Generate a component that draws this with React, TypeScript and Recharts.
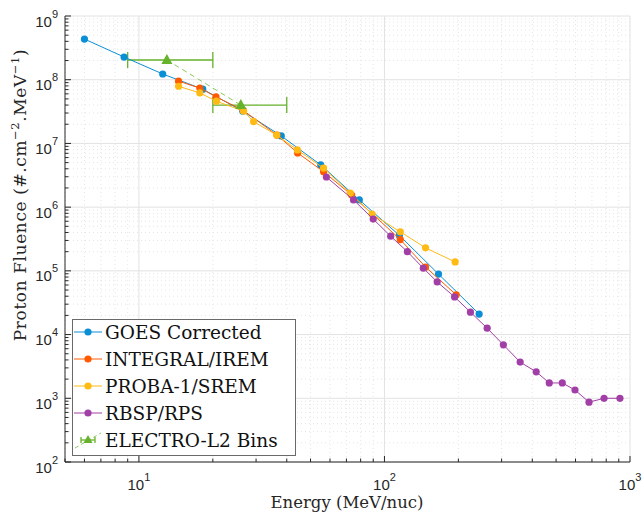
import { ScatterChart, Scatter, XAxis, YAxis, CartesianGrid, ErrorBar } from "recharts";

// GOES corrected
const goesEnergy = [6.0, 8.7, 12.5, 18.2, 26.5, 38, 55, 79, 115, 166, 243];
const goesFluence = [4.35e8, 2.27e8, 1.23e8, 7.1e7, 3.2e7, 1.31e7, 4.6e6, 1.3e6, 3.6e5, 8.9e4, 2.1e4];

// INTEGRAL/IREM
const iremEnergy = [14.5, 17.7, 20.6, 26.6, 36.5, 44.3, 56.5, 73.5, 116, 147, 196];
const iremFluence = [9.5e7, 7.4e7, 5.4e7, 3.3e7, 1.35e7, 7.1e6, 3.6e6, 1.55e6, 3.1e5, 1.15e5, 4.2e4];

// PROBA-1/SREM
const sremEnergy = [14.5, 17.7, 20.7, 26.7, 29.3, 36.4, 44.2, 56.5, 72.6, 89, 116, 147, 194];
const sremFluence = [7.9e7, 6.2e7, 4.6e7, 3.2e7, 2.2e7, 1.35e7, 7.9e6, 4.1e6, 1.66e6, 7.8e5, 4.1e5, 2.3e5, 1.38e5];

// RBSP/RPS
const rpsEnergy = [58, 74.8, 90, 106, 124, 144, 164, 193, 224, 262, 305, 357, 415, 469, 530, 597, 681, 784, 910];
const rpsFluence = [2.97e6, 1.3e6, 6.5e5, 3.5e5, 2.0e5, 1.1e5, 6.7e4, 3.9e4, 2.25e4, 1.26e4, 6.9e3, 3.7e3, 2.6e3, 1.74e3, 1.74e3, 1.35e3, 870, 1.0e3, 1.0e3];

// ELECTRO-L2 bins (centre, bin edges)
const electroEnergy = [13, 26];
const electroFluence = [2.04e8, 4.0e7];
const electroLow = [9, 20];
const electroHigh = [20, 40];

const xMajor = [10, 100, 1000];
const xTicks = [5, 6, 7, 8, 9, 10, 20, 30, 40, 50, 60, 70, 80, 90, 100, 200, 300, 400, 500, 600, 700, 800, 900, 1000];
const yMajor = [1e2, 1e3, 1e4, 1e5, 1e6, 1e7, 1e8, 1e9];
const yTicks = yMajor.flatMap((d) => (d < 1e9 ? [1, 2, 3, 4, 5, 6, 7, 8, 9].map((m) => m * d) : [d]));
const xMinor = xTicks.filter((v) => !xMajor.includes(v));
const yMinor = yTicks.filter((v) => !yMajor.includes(v));

const toPts = (e: number[], f: number[]) => e.map((x, i) => ({ x, y: f[i] }));

const series = [
  { name: "GOES Corrected", color: "#0A8FD6", data: toPts(goesEnergy, goesFluence) },
  { name: "INTEGRAL/IREM", color: "#FF5A00", data: toPts(iremEnergy, iremFluence) },
  { name: "PROBA-1/SREM", color: "#FFBA14", data: toPts(sremEnergy, sremFluence) },
  { name: "RBSP/RPS", color: "#A23FA6", data: toPts(rpsEnergy, rpsFluence) },
];

const green = "#66B22A";
const electroData = electroEnergy.map((x, i) => ({
  x,
  y: electroFluence[i],
  err: [x - electroLow[i], electroHigh[i] - x],
}));

const axisColor = "#262626";
const tickFont = { fontFamily: "Liberation Sans" };
const serif = { fontFamily: "DejaVu Serif" };

const isMajor = (v: number) => Math.abs(Math.log10(v) - Math.round(Math.log10(v))) < 1e-9;

const XTick = (props: any) => {
  const { x, y, payload, top } = props;
  const v = payload.value;
  const major = isMajor(v);
  const len = major ? 6 : 3.5;
  const d = top ? 1 : -1;
  return (
    <g>
      <line x1={x} x2={x} y1={y} y2={y + d * len} stroke={axisColor} strokeWidth={1} />
      {major && !top && (
        <text x={x} y={y + 28} textAnchor="middle" style={tickFont} fontSize={15} fill={axisColor}>
          10<tspan dy={-9} fontSize={11}>{Math.round(Math.log10(v))}</tspan>
        </text>
      )}
    </g>
  );
};

const YTick = (props: any) => {
  const { x, y, payload, right } = props;
  const v = payload.value;
  const major = isMajor(v);
  const len = major ? 6 : 3.5;
  const d = right ? -1 : 1;
  return (
    <g>
      <line x1={x} x2={x + d * len} y1={y} y2={y} stroke={axisColor} strokeWidth={1} />
      {major && !right && (
        <text x={x - 7} y={y + 10.5} textAnchor="end" style={tickFont} fontSize={15} fill={axisColor}>
          10<tspan dy={-9} fontSize={11}>{Math.round(Math.log10(v))}</tspan>
        </text>
      )}
    </g>
  );
};

const Dot = (color: string) => (p: any) => <circle cx={p.cx} cy={p.cy} r={3.6} fill={color} />;

const Triangle = (p: any) => (
  <polygon
    points={`${p.cx},${p.cy - 6} ${p.cx - 5.5},${p.cy + 4} ${p.cx + 5.5},${p.cy + 4}`}
    fill={green}
  />
);

export default function App() {
  const legendRows = [...series.map((s) => s.name), "ELECTRO-L2 Bins"];
  return (
    <div style={{ position: "absolute", left: 0, top: 0, width: 643, height: 518, background: "#fff" }}>
      <ScatterChart width={643} height={518} margin={{ top: 16, right: 13, bottom: 0, left: 0 }}>
        <CartesianGrid verticalValues={xMinor} horizontalValues={yMinor} stroke="#e6e6e6" strokeDasharray="1 3" />
        <CartesianGrid verticalValues={xMajor} horizontalValues={yMajor} stroke="#e2e2e2" />
        <XAxis
          dataKey="x"
          type="number"
          scale="log"
          domain={[5, 1000]}
          ticks={xTicks}
          interval={0}
          allowDataOverflow
          height={56}
          tickSize={0}
          tickMargin={0}
          tickLine={false}
          tick={<XTick />}
          axisLine={{ stroke: axisColor }}
        />
        <XAxis
          xAxisId="top"
          orientation="top"
          type="number"
          scale="log"
          domain={[5, 1000]}
          ticks={xTicks}
          interval={0}
          allowDataOverflow
          height={0}
          tickSize={0}
          tickMargin={0}
          tickLine={false}
          tick={<XTick top />}
          axisLine={{ stroke: axisColor }}
        />
        <YAxis
          dataKey="y"
          type="number"
          scale="log"
          domain={[1e2, 1e9]}
          ticks={yTicks}
          interval={0}
          allowDataOverflow
          width={65}
          tickSize={0}
          tickMargin={0}
          tickLine={false}
          tick={<YTick />}
          axisLine={{ stroke: axisColor }}
        />
        <YAxis
          yAxisId="right"
          orientation="right"
          type="number"
          scale="log"
          domain={[1e2, 1e9]}
          ticks={yTicks}
          interval={0}
          allowDataOverflow
          width={0}
          tickSize={0}
          tickMargin={0}
          tickLine={false}
          tick={<YTick right />}
          axisLine={{ stroke: axisColor }}
        />
        {series.map((s) => (
          <Scatter
            key={s.name}
            name={s.name}
            data={s.data}
            line={{ stroke: s.color, strokeWidth: 1 }}
            lineType="joint"
            shape={Dot(s.color)}
            isAnimationActive={false}
          />
        ))}
        <Scatter
          name="ELECTRO-L2 Bins"
          data={electroData}
          line={{ stroke: "#8CC85A", strokeWidth: 1, strokeDasharray: "5 4" }}
          lineType="joint"
          shape={Triangle}
          isAnimationActive={false}
        >
          <ErrorBar dataKey="err" direction="x" width={8} stroke={green} strokeWidth={1.3} />
        </Scatter>
      </ScatterChart>

      <svg width={643} height={518} style={{ position: "absolute", left: 0, top: 0, pointerEvents: "none" }}>
        <text x={347} y={508} textAnchor="middle" style={serif} fontSize={16.5} fill={axisColor}>
          Energy (MeV/nuc)
        </text>
        <text
          x={26}
          y={195}
          textAnchor="middle"
          transform="rotate(-90 26 195)"
          style={serif}
          fontSize={17}
          letterSpacing={0.6}
          fill={axisColor}
        >
          Proton Fluence (#.cm<tspan dy={-7} fontSize={11.5}>−2</tspan>
          <tspan dy={7}>.MeV</tspan>
          <tspan dy={-7} fontSize={11.5}>−1</tspan>
          <tspan dy={7}>)</tspan>
        </text>

        <rect x={72.5} y={319.5} width={223} height={136} fill="#fff" stroke="#6a6a6a" strokeWidth={1} />
        {legendRows.map((name, i) => {
          const cy = 332 + i * 27;
          const s = series[i];
          return (
            <g key={name}>
              {s ? (
                <>
                  <line x1={74} x2={102} y1={cy} y2={cy} stroke={s.color} strokeWidth={1} />
                  <circle cx={88} cy={cy} r={3.6} fill={s.color} />
                </>
              ) : (
                <>
                  <line x1={75} x2={101} y1={cy + 8} y2={cy - 7} stroke="#8CC85A" strokeWidth={1} strokeDasharray="4 3" />
                  <line x1={81} x2={95} y1={cy} y2={cy} stroke={green} strokeWidth={1.3} />
                  <line x1={81} x2={81} y1={cy - 3} y2={cy + 3} stroke={green} strokeWidth={1.3} />
                  <line x1={95} x2={95} y1={cy - 3} y2={cy + 3} stroke={green} strokeWidth={1.3} />
                  <polygon points={`88,${cy - 5} 83.5,${cy + 3} 92.5,${cy + 3}`} fill={green} />
                </>
              )}
              <text x={105} y={cy + 6.5} style={serif} fontSize={18.5} fill="#111">
                {name}
              </text>
            </g>
          );
        })}
      </svg>
    </div>
  );
}
